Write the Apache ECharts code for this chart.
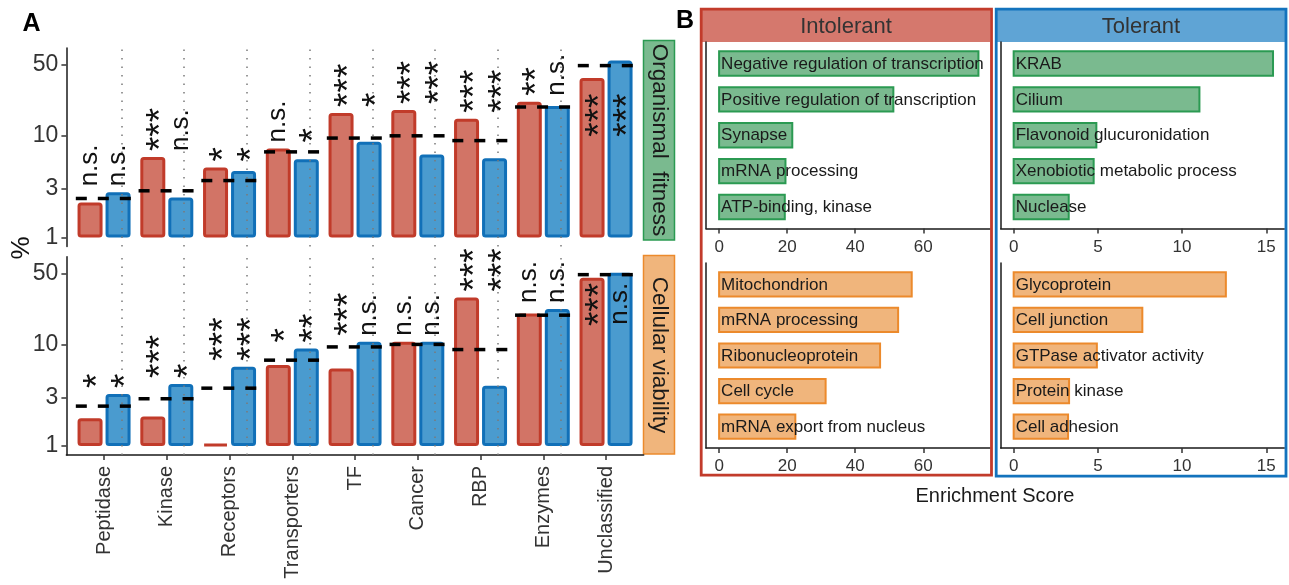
<!DOCTYPE html>
<html><head><meta charset="utf-8">
<script src="https://cdn.jsdelivr.net/npm/echarts@6/dist/echarts.min.js"></script>
<style>html,body{margin:0;padding:0;background:#fff}#c{width:1289px;height:585px}</style>
</head><body><div id="c"></div>
<script>
// ---------- DATA ----------
const categories = ['Peptidase','Kinase','Receptors','Transporters','TF','Cancer','RBP','Enzymes','Unclassified'];
const fitnessIntolerant = [2.21, 6.18, 4.87, 7.5, 16.8, 17.9, 14.7, 21.6, 37.1];
const fitnessTolerant   = [2.78, 2.47, 4.5, 5.87, 8.73, 6.56, 6.0, 19.6, 55];
const fitnessExpected   = [2.42, 2.88, 3.63, 6.95, 9.5, 10.0, 8.97, 19.2, 49];
const fitnessSigIntolerant = ['n.s.','***','*','n.s.','***','***','***','**','***'];
const fitnessSigTolerant   = ['n.s.','n.s.','*','*','*','***','***','n.s.','***'];
const viabilityIntolerant = [1.88, 1.95, 1.05, 6.28, 5.81, 10.6, 29, 20.2, 45.2];
const viabilityTolerant   = [3.26, 4.08, 6.04, 9.14, 10.6, 10.6, 3.93, 22.3, 50.6];
const viabilityExpected   = [2.47, 2.92, 3.71, 7.0, 9.45, 10.0, 8.9, 19.4, 48.6];
const viabilitySigIntolerant = ['*','***','***','*','***','n.s.','***','n.s.','***'];
const viabilitySigTolerant   = ['*','*','***','**','n.s.','n.s.','***','n.s.','n.s.'];
const percentTicks = [1, 3, 10, 50];

const intolerantFitnessTerms  = ['Negative regulation of transcription','Positive regulation of transcription','Synapse','mRNA processing','ATP-binding, kinase'];
const intolerantFitnessScores = [76.2, 51.2, 21.5, 19.5, 19.3];
const intolerantViabilityTerms  = ['Mitochondrion','mRNA processing','Ribonucleoprotein','Cell cycle','mRNA export from nucleus'];
const intolerantViabilityScores = [56.6, 52.6, 47.3, 31.3, 22.4];
const tolerantFitnessTerms  = ['KRAB','Cilium','Flavonoid glucuronidation','Xenobiotic metabolic process','Nuclease'];
const tolerantFitnessScores = [15.4, 11.03, 4.91, 4.75, 3.27];
const tolerantViabilityTerms  = ['Glycoprotein','Cell junction','GTPase activator activity','Protein kinase','Cell adhesion'];
const tolerantViabilityScores = [12.6, 7.64, 4.94, 3.29, 3.23];
const intolerantTicks = [0, 20, 40, 60];
const tolerantTicks = [0, 5, 10, 15];

// ---------- STYLE ----------
const FONT = "'Liberation Sans', Arial, Helvetica, sans-serif";
const RED_FILL='#d27466', RED_LINE='#c13b2a', BLUE_FILL='#4a9bcf', BLUE_LINE='#1170b8';
const GREEN_FILL='#7aba8f', GREEN_LINE='#2b9a52', ORANGE_FILL='#f0b57c', ORANGE_LINE='#ec8a2c';
const AXIS_COL = '#1a1a1a', TICK_TXT = '#333';
const BAR_W = 25, BAR_GAP = 3;
const HALF = (BAR_W + BAR_GAP) / 2;

const chart = echarts.init(document.getElementById('c'), null, {renderer:'canvas'});

const panelsA = [
  {red: fitnessIntolerant, blue: fitnessTolerant, exp: fitnessExpected, sigR: fitnessSigIntolerant, sigB: fitnessSigTolerant, insideDrop: 33,
   grid: {left:66.4, top:48, width:577.3, height:198.5}},
  {red: viabilityIntolerant, blue: viabilityTolerant, exp: viabilityExpected, sigR: viabilitySigIntolerant, sigB: viabilitySigTolerant, insideDrop: 10,
   grid: {left:66.4, top:256.7, width:577.3, height:198.3}}
];
const panelsB = [
  {terms: intolerantFitnessTerms, scores: intolerantFitnessScores, fill: GREEN_FILL, line: GREEN_LINE, min:-3.85, max:79.6, ticks: intolerantTicks,
   grid:{left:706, top:42, width:284, height:186.5}},
  {terms: intolerantViabilityTerms, scores: intolerantViabilityScores, fill: ORANGE_FILL, line: ORANGE_LINE, min:-3.85, max:79.6, ticks: intolerantTicks,
   grid:{left:706, top:263, width:284, height:185}},
  {terms: tolerantFitnessTerms, scores: tolerantFitnessScores, fill: GREEN_FILL, line: GREEN_LINE, min:-0.77, max:16.07, ticks: tolerantTicks,
   grid:{left:1000.7, top:42, width:283.6, height:186.5}},
  {terms: tolerantViabilityTerms, scores: tolerantViabilityScores, fill: ORANGE_FILL, line: ORANGE_LINE, min:-0.77, max:16.07, ticks: tolerantTicks,
   grid:{left:1000.7, top:263, width:283.6, height:185}}
];

const grids = [], xAxes = [], yAxes = [], series = [];
const catIdx = categories.map((c, i) => i);
const fmtNum = v => String(+(+v).toPrecision(6));

function textEl(text, x, y, opts) {
  const align = opts.align || 'left', va = opts.verticalAlign || 'middle';
  return {
    type: 'text', x: x, y: y, rotation: opts.rotation || 0, z2: 10,
    style: {text: text, fontSize: opts.fontSize, fontFamily: opts.fontFamily || FONT, fontWeight: opts.fontWeight || 'normal',
      fill: opts.fill || '#111', align: align, verticalAlign: va, textAlign: align, textVerticalAlign: va}
  };
}

panelsA.forEach((P, p) => {
  grids.push(Object.assign({containLabel:false, outerBoundsMode:'none'}, P.grid));
  const bottom = p === 1;
  xAxes.push({
    type:'value', gridIndex:p, min:-0.6, max:8.6,
    axisLine:{show:bottom, onZero:false, lineStyle:{color:AXIS_COL, width:1.5}},
    axisTick:{show:bottom, customValues:catIdx, length:5, lineStyle:{color:TICK_TXT, width:1.5}},
    axisLabel:{show:bottom, customValues:catIdx, formatter: v => categories[Math.round(v)], rotate:90,
      fontSize:20, color:TICK_TXT, margin:11, fontFamily:FONT},
    splitLine:{show:false}
  });
  yAxes.push({
    type:'log', logBase:10, gridIndex:p, min:0.816, max:73,
    axisLine:{show:true, onZero:false, lineStyle:{color:AXIS_COL, width:1.5}},
    axisTick:{show:true, customValues:percentTicks, length:5, lineStyle:{color:TICK_TXT, width:1.5}},
    axisLabel:{show:true, customValues:percentTicks, formatter: fmtNum, fontSize:23, color:TICK_TXT, margin:8, fontFamily:FONT},
    splitLine:{show:false}, minorTick:{show:false}, minorSplitLine:{show:false}
  });
  series.push({
    type:'bar', name:'Intolerant', xAxisIndex:p, yAxisIndex:p, z:2,
    barWidth:BAR_W, barGap:(BAR_GAP / BAR_W * 100).toFixed(1) + '%',
    data: P.red.map((v, i) => [i, v]),
    itemStyle:{color:RED_FILL, borderColor:RED_LINE, borderWidth:3, borderRadius:2},
    markLine:{silent:true, symbol:['none','none'], label:{show:false}, animation:false,
      lineStyle:{type:[1.5,7], color:'#7a7a7a', width:1.5},
      data: categories.slice(1).map((c, i) => ({xAxis: i + 0.5}))}
  });
  series.push({
    type:'bar', name:'Tolerant', xAxisIndex:p, yAxisIndex:p, z:2,
    barWidth:BAR_W, barGap:(BAR_GAP / BAR_W * 100).toFixed(1) + '%',
    data: P.blue.map((v, i) => [i, v]),
    itemStyle:{color:BLUE_FILL, borderColor:BLUE_LINE, borderWidth:3, borderRadius:2}
  });
  // expected (dashed) lines
  series.push({
    type:'custom', xAxisIndex:p, yAxisIndex:p, z:5, silent:true, clip:false,
    data: P.exp.map((v, i) => [i, v]), encode:{x:0, y:1},
    renderItem(params, api) {
      const i = api.value(0), v = api.value(1);
      const a = api.coord([i - 0.45, v]), b = api.coord([i + 0.45, v]);
      return {type:'line', shape:{x1:a[0], y1:a[1], x2:b[0], y2:b[1]},
        style:{stroke:'#000', lineWidth:3.5, lineDash:[11,11]}};
    }
  });
  // significance labels
  series.push({
    type:'custom', xAxisIndex:p, yAxisIndex:p, z:8, silent:true, clip:false,
    data: P.red.map((v, i) => [i, Math.max(v, P.blue[i])]), encode:{x:0, y:1},
    renderItem(params, api) {
      const k = params.dataIndex;
      const pt = api.coord([api.value(0), api.value(1)]);
      const inside = api.value(1) > 40;
      const y = inside ? pt[1] + P.insideDrop : pt[1] - 6;
      const mk = (t, cx) => {
        const star = t[0] === '*';
        const fs = star ? 37 : 26;
        return textEl(t, cx + (star ? fs * 0.24 : 0), y, {rotation:Math.PI/2, fontSize:fs,
          align: inside ? 'right' : 'left', verticalAlign:'middle', fill:'#111'});
      };
      return {type:'group', children:[mk(P.sigR[k], pt[0] - HALF), mk(P.sigB[k], pt[0] + HALF)]};
    }
  });
});

panelsB.forEach((P, j) => {
  const gi = 2 + j;
  grids.push(Object.assign({containLabel:false, outerBoundsMode:'none'}, P.grid));
  xAxes.push({
    type:'value', gridIndex:gi, min:P.min, max:P.max,
    axisLine:{show:true, onZero:false, lineStyle:{color:AXIS_COL, width:1.5}},
    axisTick:{show:true, customValues:P.ticks, length:5, lineStyle:{color:TICK_TXT, width:1.5}},
    axisLabel:{show:true, customValues:P.ticks, formatter: fmtNum, fontSize:17, color:TICK_TXT, margin:10, fontFamily:FONT},
    splitLine:{show:false}
  });
  yAxes.push({
    type:'value', gridIndex:gi, min:-0.6, max:4.6, inverse:true,
    axisLine:{show:true, onZero:false, lineStyle:{color:AXIS_COL, width:1.5}},
    axisTick:{show:false}, axisLabel:{show:false}, splitLine:{show:false}
  });
  series.push({
    type:'custom', xAxisIndex:gi, yAxisIndex:gi, z:3, silent:true, clip:false,
    data: P.scores.map((s, i) => [s, i]), encode:{x:0, y:1},
    renderItem(params, api) {
      const v = api.value(0), i = api.value(1);
      const a = api.coord([0, i]), b = api.coord([v, i]);
      const h = api.size([0, 0.68])[1];
      return {type:'group', children:[
        {type:'rect', shape:{x:a[0], y:a[1] - h/2, width:b[0] - a[0], height:h},
          style:{fill:P.fill, stroke:P.line, lineWidth:2}},
        textEl(P.terms[params.dataIndex], a[0] + 2, a[1] + 0.5, {fontSize:17, fill:'#1a1a1a'})
      ]};
    }
  });
});

// decorations: strips, headers, boxes, titles
const graphic = [
  {type:'rect', shape:{x:643.5, y:40.5, width:31, height:199.5}, style:{fill:GREEN_FILL, stroke:GREEN_LINE, lineWidth:1.5}},
  textEl('Organismal  fitness', 659, 140, {rotation:-Math.PI/2, fontSize:22.5, align:'center', fill:'#1a1a1a'}),
  {type:'rect', shape:{x:643.5, y:255.5, width:31, height:198.5}, style:{fill:ORANGE_FILL, stroke:ORANGE_LINE, lineWidth:1.5}},
  textEl('Cellular viability', 659, 355, {rotation:-Math.PI/2, fontSize:22.5, align:'center', fill:'#1a1a1a'}),
  textEl('%', 22, 248, {rotation:Math.PI/2, fontSize:26, align:'center', fill:'#111'}),
  textEl('A', 31.5, 24, {fontSize:25, fontWeight:'bold', align:'center', fill:'#000'}),
  textEl('B', 685, 21, {fontSize:25, fontWeight:'bold', align:'center', fill:'#000'}),
  {type:'rect', shape:{x:702, y:10, width:288, height:32}, style:{fill:'#d5786d'}},
  textEl('Intolerant', 846, 26.5, {fontSize:22, align:'center', fill:'#333'}),
  {type:'rect', shape:{x:997, y:10, width:288, height:32}, style:{fill:'#5fa4d5'}},
  textEl('Tolerant', 1141, 26.5, {fontSize:22, align:'center', fill:'#333'}),
  {type:'rect', shape:{x:701.2, y:9.2, width:290.3, height:466}, style:{fill:'none', stroke:'#c23b2b', lineWidth:2.8}, z:100},
  {type:'rect', shape:{x:996.2, y:9.2, width:289.8, height:467}, style:{fill:'none', stroke:'#1373bd', lineWidth:2.8}, z:100},
  textEl('Enrichment Score', 995, 496, {fontSize:20, align:'center', fill:'#1a1a1a'})
];

chart.setOption({
  animation:false,
  backgroundColor:'#fff',
  grid: grids, xAxis: xAxes, yAxis: yAxes, series: series,
  graphic: graphic
});
</script>
</body></html>
